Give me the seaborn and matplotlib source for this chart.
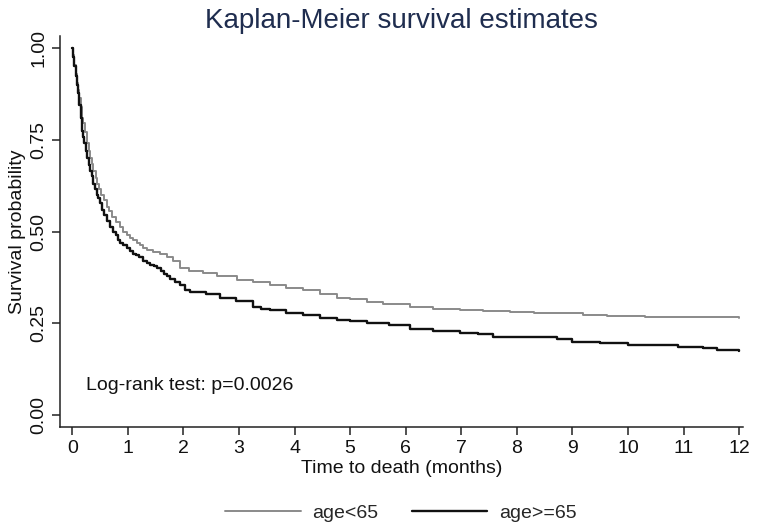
import matplotlib
matplotlib.use("Agg")
import matplotlib.pyplot as plt
import seaborn as sns
import pandas as pd

# Kaplan-Meier curves (months, survival probability)
groups = ["age<65", "age>=65"]

t_young = [0, 0.02, 0.04, 0.06, 0.08, 0.1, 0.12, 0.15, 0.18, 0.2, 0.23, 0.27, 0.3,
           0.32, 0.35, 0.38, 0.42, 0.45, 0.49, 0.52, 0.57, 0.63, 0.67, 0.72, 0.79,
           0.86, 0.92, 0.98, 1.04, 1.1, 1.16, 1.22, 1.28, 1.35, 1.45, 1.58, 1.7,
           1.82, 1.94, 2.1, 2.36, 2.6, 2.97, 3.25, 3.56, 3.85, 4.15, 4.45, 4.77,
           5.0, 5.3, 5.6, 6.08, 6.5, 6.98, 7.4, 7.88, 8.3, 8.72, 9.19, 9.62, 10.3,
           11.0, 11.5, 12.0]
s_young = [1.0, 0.98, 0.955, 0.93, 0.905, 0.885, 0.865, 0.84, 0.81, 0.795, 0.77, 0.74,
           0.72, 0.70, 0.685, 0.665, 0.645, 0.63, 0.615, 0.60, 0.585, 0.567, 0.555, 0.54,
           0.525, 0.512, 0.50, 0.49, 0.483, 0.477, 0.47, 0.462, 0.456, 0.45, 0.445, 0.44,
           0.43, 0.42, 0.40, 0.392, 0.387, 0.38, 0.368, 0.362, 0.354, 0.347, 0.34, 0.33,
           0.32, 0.315, 0.308, 0.302, 0.295, 0.29, 0.286, 0.283, 0.281, 0.279, 0.278,
           0.272, 0.27, 0.268, 0.267, 0.266, 0.265]

t_old = [0, 0.02, 0.04, 0.06, 0.08, 0.11, 0.13, 0.15, 0.18, 0.2, 0.22, 0.25, 0.27,
         0.3, 0.32, 0.35, 0.38, 0.41, 0.44, 0.47, 0.50, 0.54, 0.58, 0.63, 0.68, 0.73,
         0.78, 0.82, 0.86, 0.92, 0.98, 1.04, 1.1, 1.15, 1.2, 1.28, 1.34, 1.4, 1.47,
         1.53, 1.6, 1.65, 1.7, 1.76, 1.85, 1.94, 2.03, 2.12, 2.4, 2.66, 2.95, 3.26,
         3.4, 3.56, 3.85, 4.15, 4.45, 4.77, 5.0, 5.3, 5.7, 6.08, 6.5, 6.98, 7.3, 7.57,
         8.0, 8.47, 8.72, 9.0, 9.5, 10.0, 10.4, 10.9, 11.35, 11.6, 12.0]
s_old = [1.0, 0.975, 0.95, 0.925, 0.9, 0.877, 0.845, 0.81, 0.775, 0.757, 0.74, 0.72, 0.70,
         0.68, 0.665, 0.65, 0.63, 0.615, 0.60, 0.59, 0.578, 0.56, 0.545, 0.53, 0.512, 0.50,
         0.49, 0.478, 0.469, 0.462, 0.455, 0.447, 0.44, 0.435, 0.43, 0.42, 0.415, 0.41, 0.405,
         0.40, 0.392, 0.385, 0.378, 0.37, 0.362, 0.354, 0.34, 0.335, 0.33, 0.32, 0.31, 0.294,
         0.288, 0.286, 0.279, 0.272, 0.265, 0.259, 0.255, 0.25, 0.244, 0.234, 0.23, 0.224,
         0.22, 0.213, 0.213, 0.212, 0.207, 0.199, 0.196, 0.192, 0.19, 0.186, 0.182, 0.177,
         0.175]

x_ticks = list(range(0, 13))
y_ticks = [0.0, 0.25, 0.5, 0.75, 1.0]
y_labels = ["0.00", "0.25", "0.50", "0.75", "1.00"]

df = pd.concat([
    pd.DataFrame({"time": t_young, "surv": s_young, "group": groups[0]}),
    pd.DataFrame({"time": t_old, "surv": s_old, "group": groups[1]}),
])

sns.set_theme(style="ticks")
plt.rcParams["font.family"] = ["Liberation Sans", "DejaVu Sans"]

fig = plt.figure(figsize=(7.59, 5.28), dpi=100)
ax = fig.add_axes([0.079, 0.191, 0.900, 0.741])

colors = {"age<65": "#8a8a8a", "age>=65": "#111111"}
widths = {"age<65": 1.4, "age>=65": 1.7}
for g in groups:
    sns.lineplot(data=df[df["group"] == g], x="time", y="surv", ax=ax,
                 estimator=None, sort=False, drawstyle="steps-post",
                 color=colors[g], linewidth=widths[g], label=g, legend=False)

ax.set_xlim(-0.22, 12.07)
ax.set_ylim(-0.033, 1.033)
ax.set_xticks(x_ticks)
ax.set_yticks(y_ticks)
ax.set_yticklabels(y_labels, rotation=90, va="center")
ax.tick_params(axis="both", labelsize=14, length=6, width=1.1, color="#222222",
               labelcolor="#111111")
ax.tick_params(axis="y", pad=3)
for side in ["top", "right"]:
    ax.spines[side].set_visible(False)
for side in ["left", "bottom"]:
    ax.spines[side].set_color("#222222")
    ax.spines[side].set_linewidth(1.1)

ax.set_xlabel("Time to death (months)", fontsize=14, color="#111111", labelpad=2)
ax.set_ylabel("Survival probability", fontsize=14, color="#111111", labelpad=3)
ax.set_title("Kaplan-Meier survival estimates", fontsize=20, color="#1f2d4f", pad=6)

ax.text(0.25, 0.08, "Log-rank test: p=0.0026", fontsize=14, color="#111111",
        va="center", ha="left")

handles, labels = ax.get_legend_handles_labels()
fig.legend(handles, labels, loc="center", bbox_to_anchor=(0.528, 0.028), ncol=2,
           frameon=False, fontsize=14, handlelength=3.9, columnspacing=1.7,
           handletextpad=0.6)

fig.savefig("out.png", dpi=100)
